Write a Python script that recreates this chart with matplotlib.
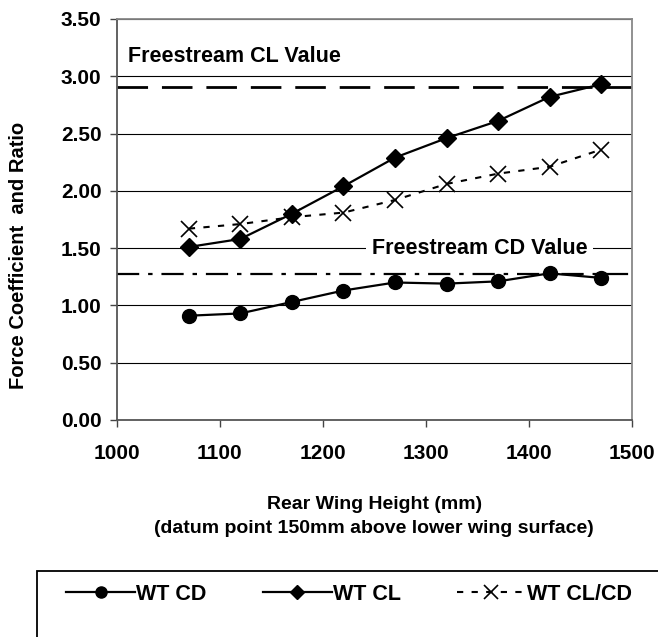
import matplotlib.pyplot as plt
from matplotlib.patches import Rectangle
from matplotlib.lines import Line2D

plt.rcParams['font.family'] = ['Liberation Sans', 'DejaVu Sans']
plt.rcParams['font.weight'] = 'bold'
plt.rcParams['axes.labelweight'] = 'bold'

# data
height = [1070, 1120, 1170, 1220, 1270, 1320, 1370, 1420, 1470]
wt_cd = [0.91, 0.93, 1.03, 1.13, 1.20, 1.19, 1.21, 1.28, 1.24]
wt_cl = [1.51, 1.58, 1.80, 2.04, 2.29, 2.46, 2.61, 2.82, 2.93]
wt_ratio = [1.67, 1.71, 1.77, 1.81, 1.92, 2.06, 2.15, 2.21, 2.36]
freestream_cl = 2.91
freestream_cd = 1.27
yticks = [0.0, 0.5, 1.0, 1.5, 2.0, 2.5, 3.0, 3.5]
xticks = [1000, 1100, 1200, 1300, 1400, 1500]

fig = plt.figure(figsize=(6.58, 6.37), dpi=100)
ax = fig.add_axes([0.1774, 0.3407, 0.7831, 0.6295])

ax.set_xlim(1000, 1500)
ax.set_ylim(0, 3.5)
ax.set_xticks(xticks)
ax.set_yticks(yticks)
ax.set_yticklabels(['%.2f' % v for v in yticks])
ax.yaxis.grid(True, color='black', linewidth=0.8)
ax.set_axisbelow(True)
ax.tick_params(labelsize=15, length=5, width=1, color='#444444', pad=6)
ax.tick_params(axis='x', pad=12)

for side in ['left', 'bottom']:
    ax.spines[side].set_color('#555555')
    ax.spines[side].set_linewidth(1.3)
for side in ['top', 'right']:
    ax.spines[side].set_color('#888888')
    ax.spines[side].set_linewidth(1.3)

# freestream reference lines
ax.axhline(freestream_cl, color='black', linewidth=2, dashes=(11, 5), zorder=2)
ax.axhline(freestream_cd, color='black', linewidth=1.6, dashes=(10, 4, 2, 4), zorder=2)

ax.plot(height, wt_cd, color='black', linewidth=1.6, marker='o', markersize=10, zorder=3)
ax.plot(height, wt_cl, color='black', linewidth=1.6, marker='D', markersize=9, zorder=3)
ax.plot(height, wt_ratio, color='black', linewidth=1.5, dashes=(3, 4), marker='x',
        markersize=12, markeredgewidth=1.2, zorder=3)

ax.text(1011, 3.17, 'Freestream CL Value', fontsize=15.5, ha='left', va='center')
ax.text(1352, 1.5, 'Freestream CD Value', fontsize=15.5, ha='center', va='center',
        bbox=dict(facecolor='white', edgecolor='none', pad=4), zorder=2.5)

ax.set_ylabel('Force Coefficient  and Ratio', fontsize=14.5)
ax.yaxis.set_label_coords(-0.172, 0.41)
ax.set_xlabel('Rear Wing Height (mm)\n(datum point 150mm above lower wing surface)',
              fontsize=14, labelpad=24, linespacing=1.55)

# legend box, running off the bottom and right of the figure
fig.patches.append(Rectangle((36.5 / 658, -0.05), 1.0, 0.05 + (637 - 570.7) / 637,
                             transform=fig.transFigure, facecolor='white',
                             edgecolor='black', linewidth=1.3))
handles = [
    Line2D([], [], color='black', linewidth=1.6, marker='o', markersize=8),
    Line2D([], [], color='black', linewidth=1.6, marker='D', markersize=7),
    Line2D([], [], color='black', linewidth=1.5, dashes=(3, 4), marker='x',
           markersize=10, markeredgewidth=1.2),
]
fig.legend(handles, ['WT CD', 'WT CL', 'WT CL/CD'], ncol=3, frameon=False,
           loc='center left', bbox_to_anchor=(47 / 658, 1 - 594 / 637),
           fontsize=15.5, handlelength=3.2, handletextpad=0.05, columnspacing=2.6)

fig.savefig('out.png', dpi=100)
